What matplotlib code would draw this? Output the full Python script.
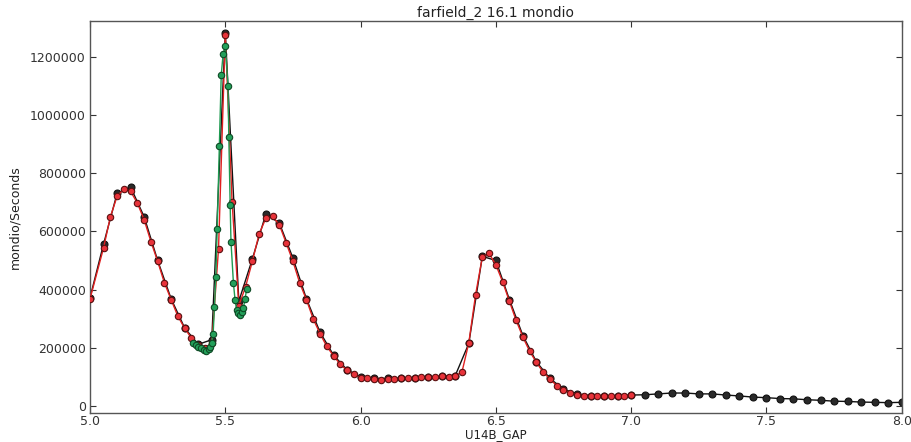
import matplotlib
matplotlib.use("Agg")
import matplotlib.pyplot as plt
from matplotlib.ticker import ScalarFormatter

# coarse gap scan, 0.05 steps over the full range
gap_coarse = [5.00, 5.05, 5.10, 5.15, 5.20, 5.25, 5.30, 5.35, 5.40, 5.45,
              5.50, 5.55, 5.60, 5.65, 5.70, 5.75, 5.80, 5.85, 5.90, 5.95,
              6.00, 6.05, 6.10, 6.15, 6.20, 6.25, 6.30, 6.35, 6.40, 6.45,
              6.50, 6.55, 6.60, 6.65, 6.70, 6.75, 6.80, 6.85, 6.90, 6.95,
              7.00, 7.05, 7.10, 7.15, 7.20, 7.25, 7.30, 7.35, 7.40, 7.45,
              7.50, 7.55, 7.60, 7.65, 7.70, 7.75, 7.80, 7.85, 7.90, 7.95,
              8.00]
rate_coarse = [372000, 556000, 730000, 752000, 650000, 500000, 368000, 268000, 212000, 228000,
               1282000, 360000, 505000, 660000, 628000, 508000, 368000, 254000, 175000, 125000,
               100000, 95000, 95000, 96000, 98000, 100000, 103000, 105000, 215000, 514000,
               500000, 366000, 242000, 152000, 95000, 58000, 42000, 36000, 35000, 36000,
               38000, 39000, 42000, 45000, 45000, 42000, 42000, 38000, 35000, 31000,
               29000, 26000, 25000, 22000, 20000, 17000, 16000, 14000, 13000, 12000,
               13000]

# fine scan, 0.025 steps up to 7.0
gap_fine = [5.000, 5.050, 5.075, 5.100, 5.125, 5.150, 5.175, 5.200, 5.225, 5.250,
            5.275, 5.300, 5.325, 5.350, 5.375, 5.400, 5.425, 5.450, 5.475, 5.500,
            5.525, 5.550, 5.575, 5.600, 5.625, 5.650, 5.675, 5.700, 5.725, 5.750,
            5.775, 5.800, 5.825, 5.850, 5.875, 5.900, 5.925, 5.950, 5.975, 6.000,
            6.025, 6.050, 6.075, 6.100, 6.125, 6.150, 6.175, 6.200, 6.225, 6.250,
            6.275, 6.300, 6.325, 6.350, 6.375, 6.400, 6.425, 6.450, 6.475, 6.500,
            6.525, 6.550, 6.575, 6.600, 6.625, 6.650, 6.675, 6.700, 6.725, 6.750,
            6.775, 6.800, 6.825, 6.850, 6.875, 6.900, 6.925, 6.950, 6.975, 7.000]
rate_fine = [368000, 543000, 649000, 720000, 745000, 737000, 697000, 640000, 565000, 497000,
             423000, 365000, 308000, 267000, 233000, 210000, 200000, 215000, 540000, 1274000,
             702000, 345000, 410000, 497000, 591000, 645000, 651000, 622000, 560000, 497000,
             423000, 365000, 299000, 249000, 205000, 173000, 143000, 123000, 109000, 98000,
             96000, 93000, 89000, 93000, 93000, 95000, 97000, 98000, 99000, 100000,
             101000, 103000, 101000, 103000, 118000, 217000, 382000, 512000, 524000, 485000,
             427000, 360000, 294000, 237000, 188000, 150000, 116000, 93000, 70000, 57000,
             45000, 39000, 36000, 35000, 34000, 34000, 35000, 35000, 36000, 38000]

# dense scan across the sharp peak
gap_peak = [5.380, 5.390, 5.400, 5.410, 5.420, 5.430, 5.440, 5.445, 5.450, 5.455,
            5.460, 5.465, 5.470, 5.478, 5.485, 5.492, 5.500, 5.510, 5.513, 5.518,
            5.521, 5.530, 5.536, 5.542, 5.548, 5.554, 5.560, 5.567, 5.573, 5.579]
rate_peak = [215000, 210000, 204000, 198000, 193000, 190000, 195000, 202000, 218000, 248000,
             340000, 442000, 608000, 893000, 1137000, 1209000, 1237000, 1099000, 925000, 691000,
             565000, 423000, 365000, 330000, 318000, 314000, 322000, 337000, 368000, 402000]

fig = plt.figure(figsize=(9.12, 4.42), dpi=100)
ax = fig.add_axes([0.0987, 0.066, 0.89, 0.8865])

ax.plot(gap_coarse, rate_coarse, '-o', color='#111111', lw=1.0,
        mfc='#2a2a2a', mec='#111111', ms=5.0, mew=0.8, zorder=2)
ax.plot(gap_fine, rate_fine, '-o', color='#e02020', lw=1.0,
        mfc='#e8333a', mec='#5a1010', ms=4.6, mew=0.8, zorder=3)
ax.plot(gap_peak, rate_peak, '-o', color='#1e9a50', lw=1.0,
        mfc='#23a05a', mec='#0d4a25', ms=4.6, mew=0.8, zorder=4)

ax.set_xlim(5.0, 8.0)
ax.set_ylim(-23000, 1322000)
ax.set_xticks([5.0, 5.5, 6.0, 6.5, 7.0, 7.5, 8.0])
ax.set_yticks(range(0, 1200001, 200000))
fmt = ScalarFormatter(useOffset=False)
fmt.set_scientific(False)
ax.yaxis.set_major_formatter(fmt)
ax.xaxis.set_major_formatter(plt.FormatStrFormatter('%.1f'))

ax.tick_params(direction='in', top=True, right=True, length=4,
               labelsize=9, colors='#333333')
ax.tick_params(axis='x', pad=1.5)
ax.tick_params(axis='y', pad=3)
for sp in ax.spines.values():
    sp.set_color('#555555')
    sp.set_linewidth(1.0)

ax.set_title('farfield_2 16.1 mondio', fontsize=10, color='#222222', pad=3)
ax.set_xlabel('U14B_GAP', fontsize=8.5, color='#222222', labelpad=0)
ax.set_ylabel('mondio/Seconds', fontsize=9, color='#222222', labelpad=6)

fig.savefig('out.png', dpi=100)
